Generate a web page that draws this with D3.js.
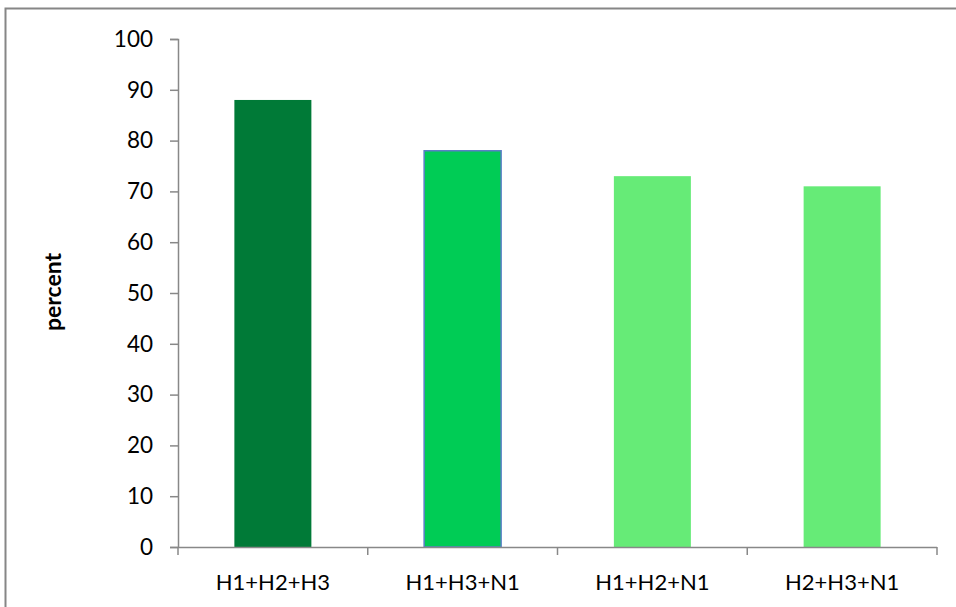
<!DOCTYPE html>
<html>
<head>
  <meta charset="utf-8">
  <style>
    body { margin: 0; background: #fff; }
    svg text { font-family: Lato, "Open Sans", sans-serif; fill: #000; }
  </style>
  <script src="https://d3js.org/d3.v7.min.js"></script>
</head>
<body>
  <svg id="svg" width="956" height="607"></svg>
  <script>
    let categories = ["H1+H2+H3", "H1+H3+N1", "H1+H2+N1", "H2+H3+N1"];
    let values = [88, 78, 73, 71];
    let barColors = ["#007A37", "#00CC55", "#66EB77", "#66EB77"];
    let yTicks = [0, 10, 20, 30, 40, 50, 60, 70, 80, 90, 100];

    let svg = d3.select("#svg");

    // outer frame
    svg.append("rect")
      .attr("x", 5.5).attr("y", 8.5)
      .attr("width", 1000).attr("height", 700)
      .attr("fill", "none")
      .attr("stroke", "#868686")
      .attr("stroke-width", 2);

    let x = d3.scaleBand().domain(categories).range([178, 937]);
    let y = d3.scaleLinear().domain([0, 100]).range([547, 39]);
    let barW = 77;

    // bars
    svg.selectAll("rect.bar")
      .data(values)
      .enter()
      .append("rect")
      .attr("class", "bar")
      .attr("x", (d, i) => x(categories[i]) + x.bandwidth() / 2 - barW / 2)
      .attr("y", d => y(d))
      .attr("width", barW)
      .attr("height", d => y(0) - y(d))
      .attr("fill", (d, i) => barColors[i])
      .attr("stroke", (d, i) => i === 1 ? "#5B7EC6" : "none")
      .attr("stroke-width", 1.5);

    // y axis
    let yAxis = svg.append("g")
      .attr("transform", "translate(178,0)")
      .call(d3.axisLeft(y).tickValues(yTicks).tickSize(8).tickPadding(17));
    yAxis.select(".domain").attr("stroke", "#888").attr("stroke-width", 1.5)
      .attr("d", "M-8,39.5H0.5V547.5");
    yAxis.selectAll(".tick line").attr("stroke", "#888").attr("stroke-width", 1.5);
    yAxis.selectAll(".tick text").style("font-size", "22.5px");

    // x axis
    let xAxis = svg.append("g")
      .attr("transform", "translate(0,547)");
    xAxis.append("line")
      .attr("x1", 170).attr("x2", 937)
      .attr("y1", 0.5).attr("y2", 0.5)
      .attr("stroke", "#888").attr("stroke-width", 1.5);
    let edges = categories.map(c => x(c)).concat([x.range()[1]]);
    xAxis.selectAll("line.tk")
      .data(edges)
      .enter()
      .append("line")
      .attr("class", "tk")
      .attr("x1", d => d).attr("x2", d => d)
      .attr("y1", 0).attr("y2", 8)
      .attr("stroke", "#888").attr("stroke-width", 1.5);
    xAxis.selectAll("text")
      .data(categories)
      .enter()
      .append("text")
      .attr("x", d => x(d) + x.bandwidth() / 2)
      .attr("y", 43)
      .attr("text-anchor", "middle")
      .style("font-size", "22px")
      .text(d => d);

    // y label
    svg.append("text")
      .attr("transform", "translate(61,292) rotate(-90)")
      .attr("text-anchor", "middle")
      .style("font-size", "23px")
      .style("font-weight", "bold")
      .text("percent");
  </script>
</body>
</html>
